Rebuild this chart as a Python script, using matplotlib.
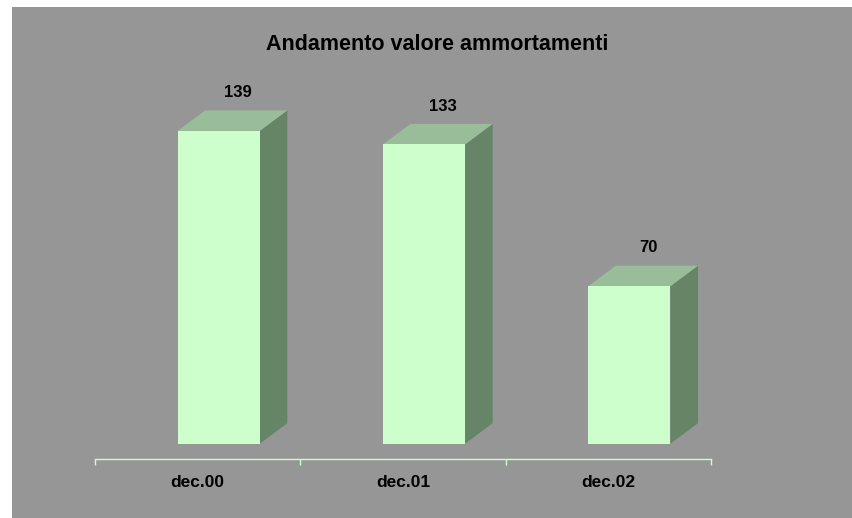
import matplotlib
matplotlib.use("Agg")
import matplotlib.pyplot as plt
from matplotlib.patches import Polygon, Rectangle

plt.rcParams['font.family'] = ['Liberation Sans', 'DejaVu Sans']

title = "Andamento valore ammortamenti"
categories = ["dec.00", "dec.01", "dec.02"]
values = [139, 133, 70]

W, H = 853, 518
fig = plt.figure(figsize=(W / 100, H / 100), dpi=100)
fig.patch.set_facecolor("white")
fig.add_artist(Rectangle((12 / W, 0), 1 - 12 / W, 1 - 7 / H, transform=fig.transFigure,
                         facecolor="#969696", edgecolor="none", zorder=0))

ax = fig.add_axes([95 / W, (518 - 459.3) / H, 616 / W, 399.3 / H])
ax.set_facecolor("none")
ax.set_xlim(-0.5, 2.5)
ax.set_ylim(-6.93, 170.5)

front_col = "#CCFFCC"
top_col = "#99BD99"
side_col = "#668466"

off = -0.0975   # front-left offset from category centre
bw = 0.40       # front width
dx = 0.134      # depth in x (category units)
dy = 9.1        # depth in y (value units)

for i, v in enumerate(values):
    x0 = i + off
    x1 = x0 + bw
    side = Polygon([(x1, 0), (x1 + dx, dy), (x1 + dx, v + dy), (x1, v)], closed=True,
                   facecolor=side_col, edgecolor="none", clip_on=False, zorder=2)
    top = Polygon([(x0, v), (x1, v), (x1 + dx, v + dy), (x0 + dx, v + dy)], closed=True,
                  facecolor=top_col, edgecolor="none", clip_on=False, zorder=2)
    front = Polygon([(x0, 0), (x1, 0), (x1, v), (x0, v)], closed=True,
                    facecolor=front_col, edgecolor="none", clip_on=False, zorder=3)
    for p in (side, top, front):
        ax.add_patch(p)
    ax.annotate(str(v), xy=(x0 + bw / 2 + 0.7 * dx, v + dy), xytext=(0, 12.8),
                textcoords="offset points", ha="center", va="center",
                fontsize=12, fontweight="bold", color="black")

for s in ("top", "left", "right"):
    ax.spines[s].set_visible(False)
ax.spines["bottom"].set_color("#CCFFCC")
ax.spines["bottom"].set_linewidth(1.0)
ax.set_yticks([])
ax.set_xticks([-0.5, 0.5, 1.5, 2.5])
ax.set_xticklabels([])
ax.tick_params(axis="x", which="major", direction="out", length=4.5, width=1.0, color="#CCFFCC")
ax.set_xticks([0, 1, 2], minor=True)
ax.set_xticklabels(categories, minor=True, fontsize=12.5, fontweight="bold")
ax.tick_params(axis="x", which="minor", length=0, pad=11)

fig.text(437 / W, 1 - 45 / H, title, ha="center", va="center",
         fontsize=15.5, fontweight="bold", color="black")

fig.savefig("out.png", dpi=100)
